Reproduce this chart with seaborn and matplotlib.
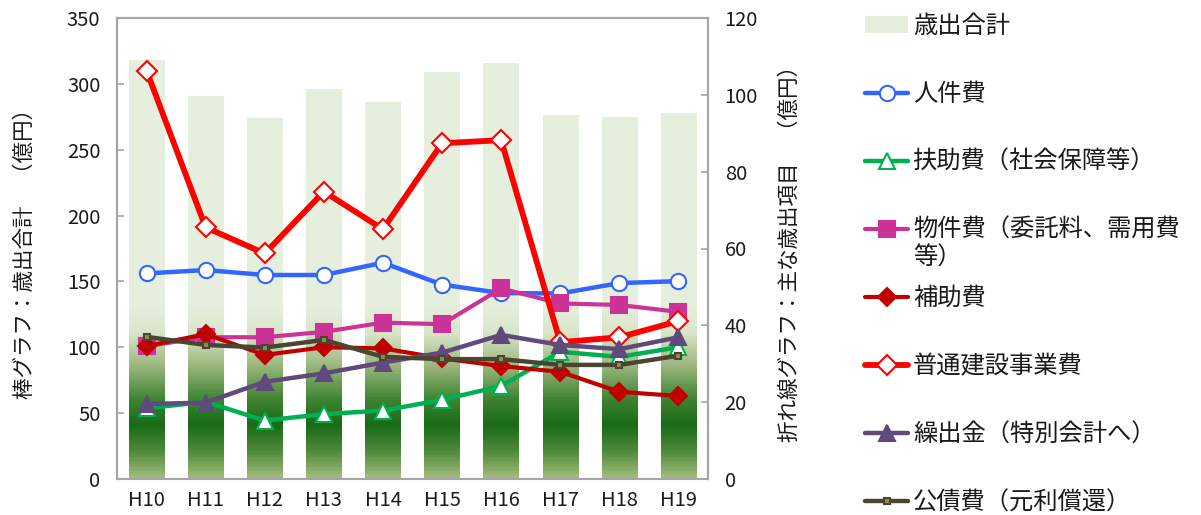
import numpy as np
import pandas as pd
import matplotlib
matplotlib.use('Agg')
import matplotlib.pyplot as plt
import seaborn as sns
from matplotlib.colors import LinearSegmentedColormap, Normalize
from matplotlib.lines import Line2D
from matplotlib.patches import Patch

# data (億円)
years = ['H10', 'H11', 'H12', 'H13', 'H14', 'H15', 'H16', 'H17', 'H18', 'H19']
total = [318, 291, 274, 296, 286, 309, 316, 276, 275, 278]
jinken = [53.5, 54.4, 53.1, 53.1, 56.3, 50.6, 48.4, 48.3, 51.0, 51.5]
fujo = [18.4, 20.1, 15.2, 16.9, 17.8, 20.6, 24.2, 33.1, 31.8, 34.3]
bukken = [34.6, 36.9, 36.9, 38.3, 40.7, 40.3, 49.6, 45.7, 45.3, 43.5]
hojo = [34.6, 37.7, 32.3, 34.3, 34.0, 31.4, 29.4, 27.9, 22.7, 21.6]
futsu = [106.3, 65.5, 58.7, 74.8, 65.0, 87.4, 88.2, 35.6, 36.9, 41.1]
kuridashi = [19.5, 19.9, 25.3, 27.5, 30.3, 32.9, 37.5, 34.9, 33.8, 36.9]
kosai = [37.0, 34.9, 34.2, 36.2, 31.8, 31.2, 31.2, 29.7, 29.7, 32.1]

bar_label = '歳出合計'
line_labels = ['人件費', '扶助費（社会保障等）', '物件費（委託料、需用費', '補助費',
               '普通建設事業費', '繰出金（特別会計へ）', '公債費（元利償還）']
line_values = [jinken, fujo, bukken, hojo, futsu, kuridashi, kosai]

# style per series: color, marker, face, edge, size, width
styles = [
    ('#3366ff', 'o', 'white', '#3366ff', 11, 3.2),
    ('#00b050', '^', 'white', '#00b050', 12, 3.2),
    ('#cc3399', 's', '#cc3399', '#cc3399', 11, 3.0),
    ('#c00000', 'D', '#c00000', '#c00000', 9, 3.0),
    ('#ff0000', 'D', 'white', '#ff0000', 10, 4.2),
    ('#604a7b', '^', '#604a7b', '#604a7b', 12, 3.2),
    ('#4a4530', 's', '#948a54', '#4a4530', 5, 3.2),
]

sns.set_style('white')
plt.rcParams['font.family'] = ['Noto Sans CJK JP', 'DejaVu Sans']
txt = '#1a1a1a'
spine_c = '#a6a6a6'
tick_fs = 14.5
lab_fs = 15.5
leg_fs = 17.5

fig = plt.figure(figsize=(12.01, 5.15), dpi=100)
ax = fig.add_axes([117 / 1201, 36 / 515, 591 / 1201, 461 / 515])

pale = '#e6efdd'
df = pd.DataFrame({'year': years, 'total': total})
sns.barplot(data=df, x='year', y='total', color=pale, saturation=1, width=0.6, ax=ax, zorder=1)

# vertical gradient clipped to each bar
cmap = LinearSegmentedColormap.from_list('bargrad', [
    (0 / 350, '#a3bc7c'), (20 / 350, '#4f8b3b'), (40 / 350, '#186a16'),
    (60 / 350, '#3f8432'), (85 / 350, '#9ab67c'), (110 / 350, '#d8e5c8'),
    (130 / 350, pale), (1.0, pale)])
grad = np.linspace(350, 0, 400).reshape(-1, 1)
for p in ax.patches:
    x0 = p.get_x()
    im = ax.imshow(grad, extent=[x0, x0 + p.get_width(), 0, 350], cmap=cmap,
                   norm=Normalize(0, 350), aspect='auto', zorder=1.5)
    im.set_clip_path(p)

ax.set_xlim(-0.5, len(years) - 0.5)
ax.set_ylim(0, 350)
ax.set_yticks(range(0, 351, 50))
ax.set_xlabel('')
ax.set_ylabel('棒グラフ：歳出合計　（億円）', fontsize=lab_fs, color=txt, labelpad=22)
ax.set_xticks(range(len(years)))
ax.set_xticklabels(years)
ax.set_xticks(np.arange(0.5, len(years) - 1, 1), minor=True)
ax.tick_params(axis='x', which='major', length=0, pad=8, labelsize=tick_fs, labelcolor=txt)
ax.tick_params(axis='x', which='minor', length=5, direction='out', color=spine_c, width=1.2)
ax.tick_params(axis='y', length=5, direction='in', pad=12, labelsize=tick_fs,
               labelcolor=txt, color=spine_c, width=1.2, left=True)
for s in ax.spines.values():
    s.set_color(spine_c)
    s.set_linewidth(1.5)

ax2 = ax.twinx()
pos = np.arange(len(years))
for lab, vals, (c, m, fc, ec, ms, lw) in zip(line_labels, line_values, styles):
    sns.lineplot(x=pos, y=vals, color=c, marker=m, markerfacecolor=fc, markeredgecolor=ec,
                 markersize=ms, markeredgewidth=1.5, linewidth=lw, ax=ax2)
ax2.set_ylim(0, 120)
ax2.set_yticks(range(0, 121, 20))
ax2.set_ylabel('折れ線グラフ：主な歳出項目　（億円）', fontsize=lab_fs, color=txt, labelpad=15)
ax2.tick_params(axis='y', length=5, direction='in', pad=12, labelsize=tick_fs,
                labelcolor=txt, color=spine_c, width=1.2, right=True)
for s in ax2.spines.values():
    s.set_color(spine_c)
    s.set_linewidth(1.5)

handles = [Patch(facecolor=pale, edgecolor='none')]
for (c, m, fc, ec, ms, lw) in styles:
    handles.append(Line2D([], [], color=c, marker=m, markerfacecolor=fc, markeredgecolor=ec,
                          markersize=ms, markeredgewidth=1.5, linewidth=lw))
leg = fig.legend(handles, [bar_label] + line_labels, loc='upper left',
                 bbox_to_anchor=(865 / 1201, 1 - 13 / 515), frameon=False, fontsize=leg_fs,
                 handlelength=1.77, handletextpad=0.2, labelspacing=1.73,
                 borderpad=0, borderaxespad=0, labelcolor=txt)

# second line of the wrapped 物件費 label
fig.canvas.draw()
bb = leg.get_texts()[3].get_window_extent()
fig.text(bb.x0 / 1201, (bb.y0 - 2) / 515, '等）', fontsize=leg_fs, color=txt, va='top', ha='left')

fig.savefig('out.png', dpi=100)
